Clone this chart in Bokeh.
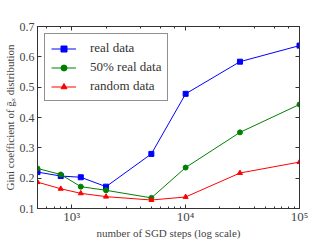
from bokeh.plotting import figure
from bokeh.models import LogAxis, LinearAxis, Legend, LegendItem, FixedTicker, LogTicker
from bokeh.embed import file_html
from bokeh.resources import INLINE

steps = [500, 800, 1200, 2000, 5000, 10000, 30000, 100000]
real = [0.220, 0.207, 0.203, 0.172, 0.280, 0.478, 0.584, 0.637]
half = [0.232, 0.212, 0.172, 0.160, 0.135, 0.235, 0.351, 0.443]
rand = [0.187, 0.165, 0.150, 0.139, 0.128, 0.138, 0.217, 0.253]
y_ticks = [0.1, 0.2, 0.3, 0.4, 0.5, 0.6, 0.7]
x_tick_labels = {1000: "10\u00b3", 10000: "10\u2074", 100000: "10\u2075"}

FONT = "Liberation Serif"

p = figure(width=317, height=241, x_axis_type="log", x_range=(500, 1e5), y_range=(0.1, 0.7),
           output_backend="svg", toolbar_location=None,
           min_border_left=33, min_border_right=18, min_border_top=26, min_border_bottom=0)
p.xgrid.visible = False
p.ygrid.visible = False
p.outline_line_color = "#333333"
p.outline_line_width = 1
p.outline_line_alpha = 1

def style_axis(ax, labels=True):
    ax.major_tick_in = 4
    ax.major_tick_out = 0
    ax.minor_tick_in = 2
    ax.minor_tick_out = 0
    ax.axis_line_color = "#333333"
    ax.major_tick_line_color = "#333333"
    ax.minor_tick_line_color = "#333333"
    ax.major_label_text_font = FONT
    ax.major_label_text_font_size = "12px"
    ax.major_label_text_color = "#444444"
    ax.axis_label_text_font = FONT
    ax.axis_label_text_font_size = "11px"
    ax.axis_label_text_font_style = "normal"
    ax.axis_label_text_color = "#444444"
    ax.major_label_standoff = 1
    ax.axis_label_standoff = 1
    if not labels:
        ax.major_label_text_font_size = "2px"
        ax.major_label_text_alpha = 0
        ax.major_label_standoff = 0

p.yaxis.ticker = FixedTicker(ticks=y_ticks)
p.yaxis.axis_label = "Gini coefficient of g\u0304\u2093 distribution"
p.xaxis.axis_label = "number of SGD steps (log scale)"
style_axis(p.xaxis[0])
style_axis(p.yaxis[0])
p.xaxis[0].major_label_overrides = x_tick_labels
p.xaxis[0].major_label_text_font_size = "13px"
p.xaxis[0].major_label_standoff = 0
p.xaxis[0].axis_label_standoff = 0
p.yaxis[0].minor_tick_in = 0
p.yaxis[0].major_label_standoff = 3

ra = LinearAxis(ticker=FixedTicker(ticks=y_ticks))
style_axis(ra, labels=False)
ra.minor_tick_in = 0
p.add_layout(ra, "right")
ta = LogAxis(ticker=LogTicker())
style_axis(ta, labels=False)
p.add_layout(ta, "above")

r1l = p.line(steps, real, line_color="#0000ff", line_width=1)
r1m = p.scatter(steps, real, marker="square", size=5, fill_color="#0000ff", line_color="#0000ff")
r2l = p.line(steps, half, line_color="#008000", line_width=1)
r2m = p.scatter(steps, half, marker="circle", size=5, fill_color="#008000", line_color="#008000")
r3l = p.line(steps, rand, line_color="#ff0000", line_width=1)
r3m = p.scatter(steps, rand, marker="triangle", size=5, fill_color="#ff0000", line_color="#ff0000")

legend = Legend(items=[
    LegendItem(label="real data", renderers=[r1l, r1m]),
    LegendItem(label="50% real data", renderers=[r2l, r2m]),
    LegendItem(label="random data", renderers=[r3l, r3m]),
], location="top_left")
legend.margin = 7
legend.border_line_color = "#222222"
legend.border_line_width = 1
legend.label_text_font = FONT
legend.label_text_font_size = "13px"
legend.label_text_color = "#333333"
legend.glyph_width = 25
legend.glyph_height = 15
legend.spacing = 3
legend.padding = 6
legend.label_standoff = 14
legend.background_fill_alpha = 1
p.add_layout(legend)

open("out.html", "w").write(file_html(p, INLINE))
